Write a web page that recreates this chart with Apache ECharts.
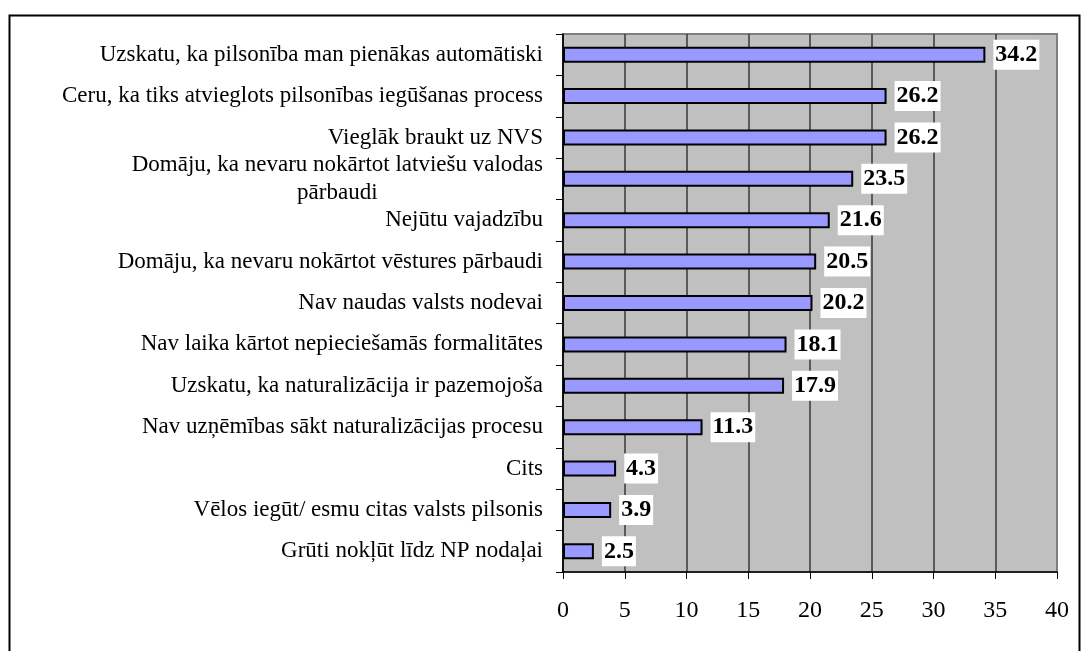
<!DOCTYPE html>
<html>
<head>
<meta charset="utf-8">
<script src="https://cdn.jsdelivr.net/npm/echarts@6/dist/echarts.min.js"></script>
<style>
  html, body { margin: 0; padding: 0; background: #fff; }
  #chart { width: 1081px; height: 651px; }
</style>
</head>
<body>
<div id="chart"></div>
<script>
// kategorijas (no augšas uz leju)
var categories = [
    'Uzskatu, ka pilsonība man pienākas automātiski',
    'Ceru, ka tiks atvieglots pilsonības iegūšanas process',
    'Vieglāk braukt uz NVS',
    'Domāju, ka nevaru nokārtot latviešu valodas\npārbaudi',
    'Nejūtu vajadzību',
    'Domāju, ka nevaru nokārtot vēstures pārbaudi',
    'Nav naudas valsts nodevai',
    'Nav laika kārtot nepieciešamās formalitātes',
    'Uzskatu, ka naturalizācija ir pazemojoša',
    'Nav uzņēmības sākt naturalizācijas procesu',
    'Cits',
    'Vēlos iegūt/ esmu citas valsts pilsonis',
    'Grūti nokļūt līdz NP nodaļai'
];
var values = [34.2, 26.2, 26.2, 23.5, 21.6, 20.5, 20.2, 18.1, 17.9, 11.3, 4.3, 3.9, 2.5];
var xTicks = [0, 5, 10, 15, 20, 25, 30, 35, 40];

var chart = echarts.init(document.getElementById('chart'));
var serif = '"Liberation Serif", "Times New Roman", serif';

// režģa līnijas: pēdējā (40) pelēka kā rāmis
var splitColors = xTicks.map(function (t, i) {
    return i === xTicks.length - 1 ? '#808080' : '#383838';
});

var option = {
    animation: false,
    graphic: [{
        type: 'rect',
        left: 7, top: 13,
        shape: { width: 1070, height: 660 },
        style: { fill: 'none', stroke: '#000', lineWidth: 2 },
        z: 100
    }],
    grid: {
        left: 563, right: 24, top: 34, bottom: 79,
        show: true,
        backgroundColor: '#C0C0C0',
        borderColor: '#808080',
        borderWidth: 2
    },
    xAxis: {
        type: 'value',
        min: 0, max: 40, interval: 5,
        axisLine: { show: true, lineStyle: { color: '#000', width: 1.5 } },
        axisTick: { show: true, length: 7, lineStyle: { color: '#000' } },
        axisLabel: {
            color: '#000', fontFamily: serif, fontSize: 24, margin: 27
        },
        splitLine: { show: true, lineStyle: { color: splitColors, width: 1.5 } }
    },
    yAxis: {
        type: 'category',
        inverse: true,
        data: categories,
        axisLine: { show: true, lineStyle: { color: '#000', width: 1.5 } },
        axisTick: { show: true, length: 7, lineStyle: { color: '#000' } },
        axisLabel: {
            margin: 20,
            formatter: function (value) {
                return value.split('\n').map(function (s) { return '{t|' + s + '}'; }).join('\n');
            },
            rich: {
                t: {
                    color: '#000', fontFamily: serif, fontSize: 23,
                    lineHeight: 28, align: 'center'
                }
            }
        }
    },
    series: [{
        type: 'bar',
        data: values,
        barWidth: 16,
        itemStyle: { color: '#9999FF', borderColor: '#000', borderWidth: 2 },
        label: {
            show: true,
            position: 'right',
            distance: 8,
            color: '#000',
            fontFamily: serif,
            fontWeight: 'bold',
            fontSize: 24,
            backgroundColor: '#fff',
            padding: [4, 2, 2, 2]
        }
    }]
};
chart.setOption(option);
</script>
</body>
</html>
